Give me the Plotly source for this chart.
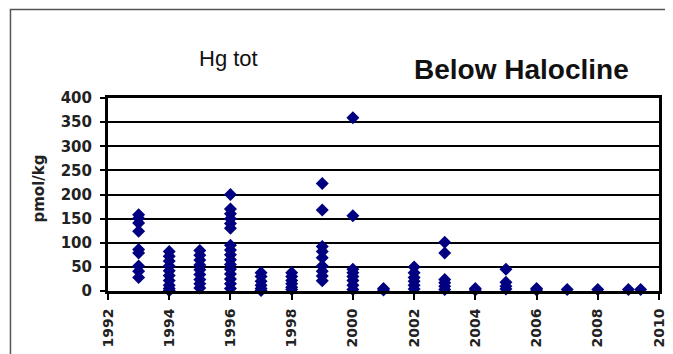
import plotly.graph_objects as go

years = [1993]*9 + [1994]*10 + [1995]*9 + [1996]*16 + [1997]*6 + [1998]*6 + [1999]*9 + \
        [2000]*8 + [2001]*2 + [2002]*6 + [2003]*6 + [2004]*2 + [2005]*4 + [2006]*2 + \
        [2007]*1 + [2008]*1 + [2009]*1 + [2009.4]*1
hg_tot = [158, 151, 141, 124, 86, 79, 52, 41, 28,
          82, 72, 62, 52, 42, 32, 22, 12, 5, 1,
          84, 74, 64, 54, 44, 34, 24, 15, 6,
          200, 170, 160, 150, 140, 130, 95, 85, 75, 65, 55, 45, 35, 25, 15, 5,
          38, 30, 20, 12, 5, 1,
          38, 30, 22, 15, 8, 3,
          223, 168, 92, 82, 69, 52, 41, 31, 21,
          359, 156, 45, 38, 30, 22, 12, 3,
          5, 2,
          50, 38, 28, 20, 12, 4,
          101, 79, 24, 17, 10, 3,
          5, 2,
          45, 18, 10, 4,
          5, 2,
          3, 3, 3, 3]

x_ticks = list(range(1992, 2011, 2))
y_ticks = list(range(0, 401, 50))

ARIAL = "Liberation Sans, Arial, sans-serif"
WIDE = "DejaVu Sans, Liberation Sans, sans-serif"

fig = go.Figure(go.Scatter(
    x=years, y=hg_tot, mode="markers",
    marker=dict(symbol="diamond", color="#000080", size=10, line=dict(width=0)),
    cliponaxis=False, showlegend=False))

fig.update_layout(
    width=665, height=346,
    margin=dict(l=100, r=6, t=90, b=62),
    paper_bgcolor="white", plot_bgcolor="white",
    font=dict(family=ARIAL, size=12, color="black"),
    annotations=[
        dict(text="Hg tot", xref="paper", yref="paper", x=0.218, y=1.205,
             xanchor="center", yanchor="middle", showarrow=False,
             font=dict(size=22, family=ARIAL, color="#111111")),
        dict(text="<b>Below Halocline</b>", xref="paper", yref="paper", x=0.751, y=1.15,
             xanchor="center", yanchor="middle", showarrow=False,
             font=dict(size=28, family=ARIAL, color="#111111")),
        dict(text="<b>pmol/kg</b>", xref="paper", yref="paper", x=-0.127, y=0.531,
             xanchor="center", yanchor="middle", showarrow=False, textangle=-90,
             font=dict(size=15, family=WIDE, color="#222222")),
    ],
    shapes=[
        dict(type="rect", xref="paper", yref="paper", x0=-0.177, x1=1.2, y0=-0.6, y1=1.459,
             line=dict(color="#555555", width=1.5), layer="below"),
    ],
)

fig.update_xaxes(range=[1992, 2010], tickvals=x_ticks,
                 ticktext=["<b>%d</b>" % v for v in x_ticks],
                 tickangle=-90, ticks="outside", ticklen=6, tickwidth=2, tickcolor="black",
                 ticklabelstandoff=3,
                 showgrid=False, zeroline=False,
                 showline=True, linewidth=3, linecolor="black", mirror=True,
                 tickfont=dict(size=14, family=WIDE, color="#222222"))
fig.update_yaxes(range=[0, 400], tickvals=y_ticks,
                 ticktext=["<b>%d</b>" % v for v in y_ticks],
                 ticks="outside", ticklen=5, tickwidth=2, ticklabelstandoff=5,
                 tickcolor="black", showgrid=True, gridcolor="black", gridwidth=1.5,
                 zeroline=False, showline=True, linewidth=3, linecolor="black", mirror=True,
                 tickfont=dict(size=15, family=WIDE, color="#222222"))

fig.write_html("out.html")
